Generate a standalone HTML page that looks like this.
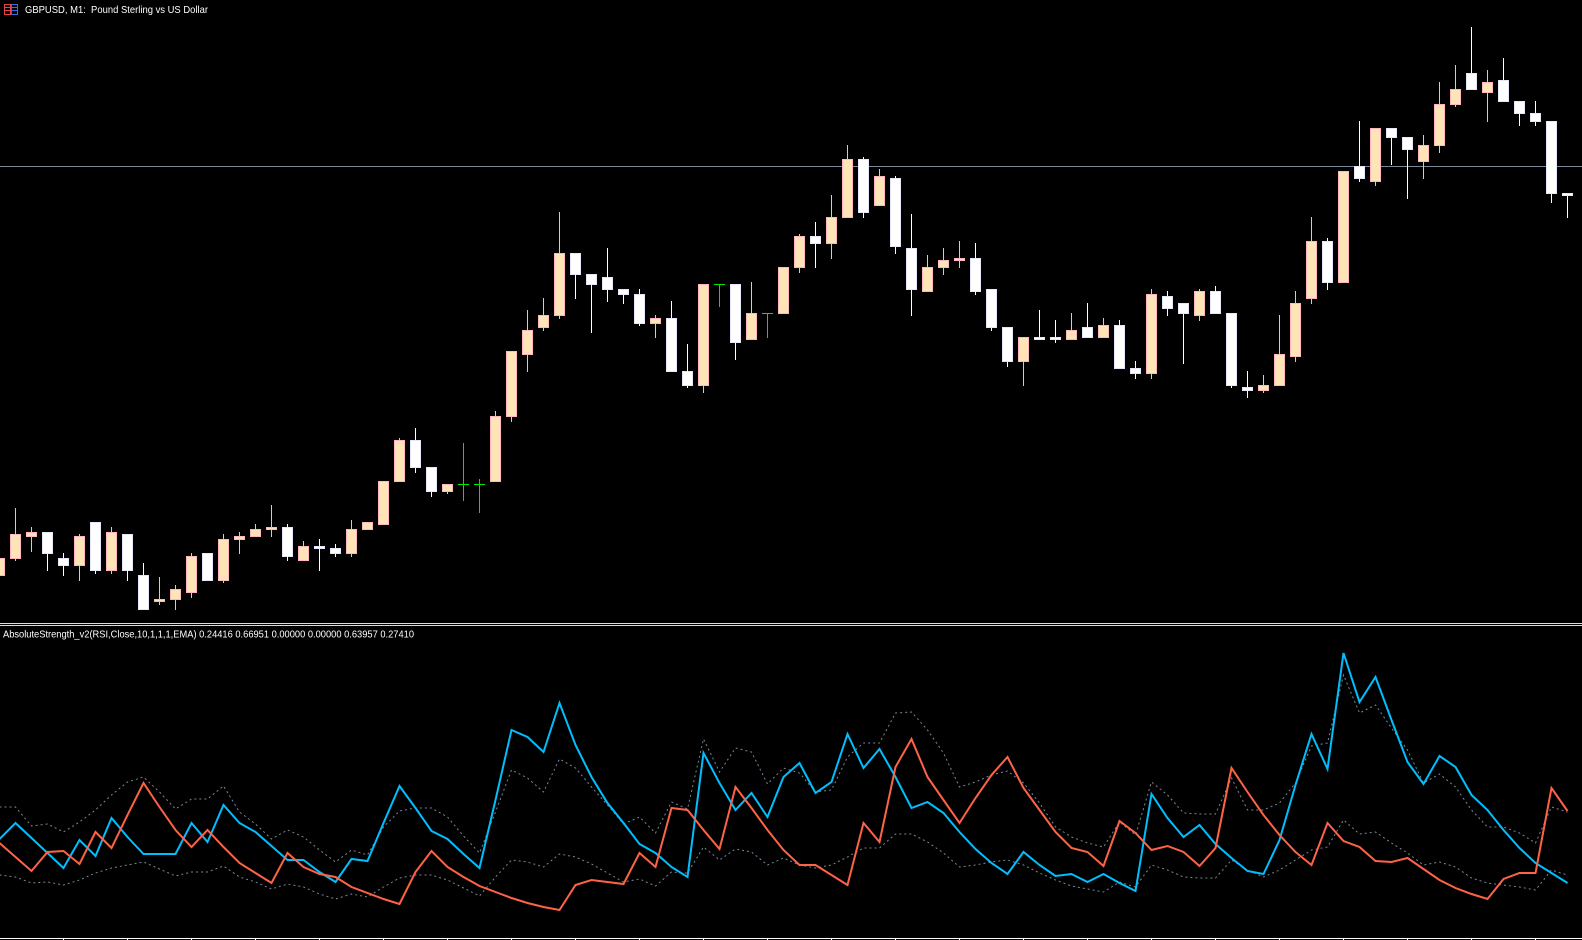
<!DOCTYPE html>
<html>
<head>
<meta charset="utf-8">
<style>
html,body{margin:0;padding:0;background:#000;}
svg{display:block;}
.u{fill:#FFE4B5;stroke:#FFB6C1;stroke-width:1;}
.d{fill:#FFFFFF;stroke:#E6E6FA;stroke-width:1;}
.uw{stroke:#FFB6C1;stroke-width:1;fill:none;}
.dw{stroke:#FFFFFF;stroke-width:1;fill:none;}
.gw{stroke:#00E600;stroke-width:1;fill:none;}
text{font-family:"Liberation Sans",sans-serif;fill:#FFFFFF;}
</style>
</head>
<body>
<svg width="1582" height="940" viewBox="0 0 1582 940" xmlns="http://www.w3.org/2000/svg">
<rect x="0" y="0" width="1582" height="940" fill="#000"/>

<!-- title -->
<g shape-rendering="crispEdges">
<rect x="4.5" y="4.5" width="6" height="10" fill="none" stroke="#E84444"/>
<path d="M5 7.5H10 M5 10.5H10" stroke="#E84444"/>
<rect x="11.5" y="4.5" width="6" height="10" fill="none" stroke="#2F72EA"/>
<path d="M12 7.5H17 M12 10.5H17" stroke="#2F72EA"/>
</g>
<text x="25" y="13" font-size="10.5" textLength="183" lengthAdjust="spacingAndGlyphs" xml:space="preserve">GBPUSD, M1:  Pound Sterling vs US Dollar</text>

<!-- price level line -->
<path d="M0 166.5H1582" stroke="#778899" stroke-width="1" shape-rendering="crispEdges"/>

<!-- candles -->
<g shape-rendering="crispEdges">
<path class="uw" d="M-0.5 555V578 M15.5 508V561 M31.5 527V552 M79.5 534V581 M111.5 527V574 M159.5 577V605 M175.5 585V610 M191.5 553V598 M223.5 534V583 M239.5 532V554 M255.5 524V537 M271.5 505V537 M303.5 541V561 M351.5 520V557 M399.5 438V482 M447.5 484V494 M495.5 411V482 M511.5 351V422 M527.5 310V372 M543.5 298V331 M559.5 212V319 M655.5 315V338 M703.5 284V393 M751.5 282V340 M799.5 234V273 M831.5 195V259 M847.5 145V218 M879.5 169V206 M927.5 255V292 M943.5 248V275 M959.5 241V268 M1023.5 337V386 M1071.5 313V340 M1103.5 318V338 M1151.5 289V379 M1199.5 289V321 M1263.5 375V393 M1279.5 315V386 M1295.5 291V362 M1311.5 217V304 M1375.5 128V186 M1423.5 135V179 M1439.5 82V153 M1455.5 65V107 M1487.5 70V122"/>
<path class="dw" d="M47.5 532V571 M63.5 553V576 M95.5 522V574 M127.5 534V581 M143.5 563V610 M287.5 524V561 M319.5 539V571 M335.5 544V557 M415.5 428V473 M431.5 467V497 M575.5 253V299 M591.5 274V333 M607.5 248V302 M623.5 289V304 M639.5 289V326 M671.5 301V372 M687.5 344V388 M735.5 284V360 M815.5 222V268 M863.5 157V218 M895.5 176V254 M911.5 214V316 M975.5 243V295 M991.5 289V331 M1007.5 327V367 M1039.5 310V340 M1055.5 320V343 M1087.5 303V338 M1119.5 320V369 M1135.5 361V379 M1167.5 291V316 M1183.5 303V364 M1215.5 286V314 M1231.5 313V388 M1247.5 371V398 M1327.5 238V290 M1359.5 121V182 M1391.5 128V165 M1407.5 137V199 M1471.5 27V90 M1503.5 58V102 M1519.5 101V126 M1535.5 101V126 M1551.5 121V203 M1567.5 193V218"/>
<path class="gw" d="M463.5 443V501 M458 484.5H469 M479.5 479V513 M474 484.5H485 M719.5 284V307 M714 284.5H725 M767.5 313V338 M762 313.5H773"/>

<rect class="u" x="-5.5" y="558.5" width="10" height="17"/>
<rect class="u" x="10.5" y="534.5" width="10" height="24"/>
<rect class="u" x="26.5" y="532.5" width="10" height="4"/>
<rect class="d" x="42.5" y="532.5" width="10" height="21"/>
<rect class="d" x="58.5" y="558.5" width="10" height="7"/>
<rect class="u" x="74.5" y="536.5" width="10" height="29"/>
<rect class="d" x="90.5" y="522.5" width="10" height="48"/>
<rect class="u" x="106.5" y="532.5" width="10" height="38"/>
<rect class="d" x="122.5" y="534.5" width="10" height="36"/>
<rect class="d" x="138.5" y="575.5" width="10" height="34"/>
<rect class="u" x="154.5" y="599.5" width="10" height="2"/>
<rect class="u" x="170.5" y="589.5" width="10" height="10"/>
<rect class="u" x="186.5" y="556.5" width="10" height="36"/>
<rect class="d" x="202.5" y="553.5" width="10" height="27"/>
<rect class="u" x="218.5" y="539.5" width="10" height="41"/>
<rect class="u" x="234.5" y="536.5" width="10" height="3"/>
<rect class="u" x="250.5" y="529.5" width="10" height="7"/>
<rect class="u" x="266.5" y="527.5" width="10" height="2"/>
<rect class="d" x="282.5" y="527.5" width="10" height="29"/>
<rect class="u" x="298.5" y="546.5" width="10" height="14"/>
<rect class="d" x="314.5" y="546.5" width="10" height="2"/>
<rect class="d" x="330.5" y="548.5" width="10" height="5"/>
<rect class="u" x="346.5" y="529.5" width="10" height="24"/>
<rect class="u" x="362.5" y="522.5" width="10" height="7"/>
<rect class="u" x="378.5" y="481.5" width="10" height="43"/>
<rect class="u" x="394.5" y="440.5" width="10" height="41"/>
<rect class="d" x="410.5" y="440.5" width="10" height="27"/>
<rect class="d" x="426.5" y="467.5" width="10" height="24"/>
<rect class="u" x="442.5" y="484.5" width="10" height="7"/>
<rect class="u" x="490.5" y="416.5" width="10" height="65"/>
<rect class="u" x="506.5" y="351.5" width="10" height="65"/>
<rect class="u" x="522.5" y="330.5" width="10" height="24"/>
<rect class="u" x="538.5" y="315.5" width="10" height="12"/>
<rect class="u" x="554.5" y="253.5" width="10" height="62"/>
<rect class="d" x="570.5" y="253.5" width="10" height="21"/>
<rect class="d" x="586.5" y="274.5" width="10" height="10"/>
<rect class="d" x="602.5" y="277.5" width="10" height="12"/>
<rect class="d" x="618.5" y="289.5" width="10" height="5"/>
<rect class="d" x="634.5" y="294.5" width="10" height="29"/>
<rect class="u" x="650.5" y="318.5" width="10" height="5"/>
<rect class="d" x="666.5" y="318.5" width="10" height="53"/>
<rect class="d" x="682.5" y="371.5" width="10" height="14"/>
<rect class="u" x="698.5" y="284.5" width="10" height="101"/>
<rect class="d" x="730.5" y="284.5" width="10" height="58"/>
<rect class="u" x="746.5" y="313.5" width="10" height="26"/>
<rect class="u" x="778.5" y="267.5" width="10" height="46"/>
<rect class="u" x="794.5" y="236.5" width="10" height="31"/>
<rect class="d" x="810.5" y="236.5" width="10" height="7"/>
<rect class="u" x="826.5" y="217.5" width="10" height="26"/>
<rect class="u" x="842.5" y="159.5" width="10" height="58"/>
<rect class="d" x="858.5" y="159.5" width="10" height="53"/>
<rect class="u" x="874.5" y="176.5" width="10" height="29"/>
<rect class="d" x="890.5" y="178.5" width="10" height="68"/>
<rect class="d" x="906.5" y="248.5" width="10" height="41"/>
<rect class="u" x="922.5" y="267.5" width="10" height="24"/>
<rect class="u" x="938.5" y="260.5" width="10" height="7"/>
<rect class="u" x="954.5" y="258.5" width="10" height="2"/>
<rect class="d" x="970.5" y="258.5" width="10" height="33"/>
<rect class="d" x="986.5" y="289.5" width="10" height="38"/>
<rect class="d" x="1002.5" y="327.5" width="10" height="34"/>
<rect class="u" x="1018.5" y="337.5" width="10" height="24"/>
<rect class="d" x="1034.5" y="337.5" width="10" height="2"/>
<rect class="d" x="1050.5" y="337.5" width="10" height="2"/>
<rect class="u" x="1066.5" y="330.5" width="10" height="9"/>
<rect class="d" x="1082.5" y="327.5" width="10" height="10"/>
<rect class="u" x="1098.5" y="325.5" width="10" height="12"/>
<rect class="d" x="1114.5" y="325.5" width="10" height="43"/>
<rect class="d" x="1130.5" y="368.5" width="10" height="5"/>
<rect class="u" x="1146.5" y="294.5" width="10" height="79"/>
<rect class="d" x="1162.5" y="296.5" width="10" height="12"/>
<rect class="d" x="1178.5" y="303.5" width="10" height="10"/>
<rect class="u" x="1194.5" y="291.5" width="10" height="24"/>
<rect class="d" x="1210.5" y="291.5" width="10" height="22"/>
<rect class="d" x="1226.5" y="313.5" width="10" height="72"/>
<rect class="d" x="1242.5" y="387.5" width="10" height="3"/>
<rect class="u" x="1258.5" y="385.5" width="10" height="5"/>
<rect class="u" x="1274.5" y="354.5" width="10" height="31"/>
<rect class="u" x="1290.5" y="303.5" width="10" height="53"/>
<rect class="u" x="1306.5" y="241.5" width="10" height="57"/>
<rect class="d" x="1322.5" y="241.5" width="10" height="41"/>
<rect class="u" x="1338.5" y="171.5" width="10" height="111"/>
<rect class="d" x="1354.5" y="166.5" width="10" height="12"/>
<rect class="u" x="1370.5" y="128.5" width="10" height="53"/>
<rect class="d" x="1386.5" y="128.5" width="10" height="9"/>
<rect class="d" x="1402.5" y="137.5" width="10" height="12"/>
<rect class="u" x="1418.5" y="145.5" width="10" height="16"/>
<rect class="u" x="1434.5" y="104.5" width="10" height="41"/>
<rect class="u" x="1450.5" y="89.5" width="10" height="15"/>
<rect class="d" x="1466.5" y="73.5" width="10" height="16"/>
<rect class="u" x="1482.5" y="82.5" width="10" height="10"/>
<rect class="d" x="1498.5" y="80.5" width="10" height="21"/>
<rect class="d" x="1514.5" y="101.5" width="10" height="12"/>
<rect class="d" x="1530.5" y="113.5" width="10" height="8"/>
<rect class="d" x="1546.5" y="121.5" width="10" height="72"/>
<rect class="d" x="1562.5" y="193.5" width="10" height="2"/>
</g>

<!-- separator -->
<path d="M0 623.5H1582 M0 625.5H1582" stroke="#DCDCDC" stroke-width="1" shape-rendering="crispEdges"/>

<!-- indicator label -->
<text x="3" y="637.5" font-size="10.5" textLength="411" lengthAdjust="spacingAndGlyphs">AbsoluteStrength_v2(RSI,Close,10,1,1,1,EMA) 0.24416 0.66951 0.00000 0.00000 0.63957 0.27410</text>

<!-- indicator dashed bands -->
<g fill="none" stroke="#778899" stroke-width="1" stroke-dasharray="2,3">
<polyline points="-0.5,807 15.5,807 31.5,826 47.5,824 63.5,832 79.5,822 95.5,810 111.5,795 127.5,782 143.5,777 159.5,792 175.5,809 191.5,799 207.5,799 223.5,786 239.5,812 255.5,824 271.5,839 287.5,830 303.5,837 319.5,850 335.5,862 351.5,850 367.5,855 383.5,827 399.5,811 415.5,808 431.5,808 447.5,817 463.5,836 479.5,853 495.5,812 511.5,770 527.5,778 543.5,792 559.5,759 575.5,768 591.5,787 607.5,805 623.5,824 639.5,817 655.5,833 671.5,802 687.5,809 703.5,739 719.5,772 735.5,748 751.5,752 767.5,784 783.5,768 799.5,773 815.5,792 831.5,790 847.5,757 863.5,743 879.5,743 895.5,713 911.5,712 927.5,730 943.5,753 959.5,787 975.5,782 991.5,775 1007.5,771 1023.5,783 1039.5,803 1055.5,827 1071.5,837 1087.5,843 1103.5,847 1119.5,822 1135.5,835 1151.5,782 1167.5,795 1183.5,813 1199.5,814 1215.5,814 1231.5,778 1247.5,810 1263.5,810 1279.5,803 1295.5,783 1311.5,746 1327.5,743 1343.5,675 1359.5,713 1375.5,705 1391.5,728 1407.5,750 1423.5,783 1439.5,774 1455.5,787 1471.5,810 1487.5,827 1503.5,827 1519.5,833 1535.5,843 1551.5,807 1567.5,812"/>
<polyline points="-0.5,875 15.5,877 31.5,883 47.5,882 63.5,885 79.5,880 95.5,873 111.5,868 127.5,865 143.5,862 159.5,869 175.5,876 191.5,872 207.5,872 223.5,866 239.5,877 255.5,882 271.5,889 287.5,884 303.5,887 319.5,894 335.5,899 351.5,894 367.5,897 383.5,887 399.5,878 415.5,875 431.5,875 447.5,880 463.5,888 479.5,896 495.5,877 511.5,860 527.5,862 543.5,867 559.5,854 575.5,857 591.5,864 607.5,873 623.5,882 639.5,879 655.5,886 671.5,872 687.5,873 703.5,847 719.5,860 735.5,849 751.5,852 767.5,865 783.5,858 799.5,865 815.5,868 831.5,865 847.5,857 863.5,848 879.5,848 895.5,834 911.5,834 927.5,842 943.5,853 959.5,867 975.5,865 991.5,862 1007.5,860 1023.5,865 1039.5,873 1055.5,880 1071.5,886 1087.5,889 1103.5,892 1119.5,882 1135.5,887 1151.5,865 1167.5,870 1183.5,877 1199.5,878 1215.5,878 1231.5,860 1247.5,870 1263.5,877 1279.5,870 1295.5,860 1311.5,850 1327.5,847 1343.5,820 1359.5,834 1375.5,832 1391.5,843 1407.5,853 1423.5,865 1439.5,862 1455.5,867 1471.5,878 1487.5,883 1503.5,885 1519.5,887 1535.5,890 1551.5,870 1567.5,875"/>
</g>

<!-- blue line -->
<polyline fill="none" stroke="#00BFFF" stroke-width="2" stroke-linejoin="miter" points="-0.5,839 15.5,823 31.5,838 47.5,853 63.5,868 79.5,840 95.5,856 111.5,818 127.5,837 143.5,854 159.5,854 175.5,854 191.5,823 207.5,842 223.5,805 239.5,823 255.5,832 271.5,846 287.5,860 303.5,860 319.5,872 335.5,882 351.5,859 367.5,861 383.5,823 399.5,786 415.5,808 431.5,831 447.5,839 463.5,854 479.5,868 495.5,800 511.5,730 527.5,737 543.5,752 559.5,703 575.5,745 591.5,777 607.5,803 623.5,823 639.5,844 655.5,853 671.5,867 687.5,877 703.5,753 719.5,783 735.5,810 751.5,793 767.5,817 783.5,777 799.5,763 815.5,793 831.5,782 847.5,734 863.5,768 879.5,749 895.5,777 911.5,808 927.5,802 943.5,813 959.5,832 975.5,849 991.5,863 1007.5,874 1023.5,852 1039.5,865 1055.5,876 1071.5,874 1087.5,882 1103.5,874 1119.5,883 1135.5,891 1151.5,794 1167.5,818 1183.5,837 1199.5,825 1215.5,844 1231.5,858 1247.5,871 1263.5,874 1279.5,840 1295.5,785 1311.5,734 1327.5,769 1343.5,653 1359.5,702 1375.5,677 1391.5,720 1407.5,762 1423.5,784 1439.5,756 1455.5,767 1471.5,795 1487.5,810 1503.5,830 1519.5,848 1535.5,863 1551.5,873 1567.5,883"/>

<!-- orange line -->
<polyline fill="none" stroke="#FF6347" stroke-width="2" points="-0.5,843 15.5,857 31.5,871 47.5,852 63.5,851 79.5,864 95.5,832 111.5,848 127.5,815 143.5,783 159.5,807 175.5,830 191.5,847 207.5,830 223.5,847 239.5,863 255.5,873 271.5,883 287.5,853 303.5,867 319.5,874 335.5,877 351.5,887 367.5,893 383.5,899 399.5,904 415.5,872 431.5,851 447.5,867 463.5,877 479.5,886 495.5,892 511.5,898 527.5,903 543.5,907 559.5,910 575.5,885 591.5,880 607.5,882 623.5,884 639.5,853 655.5,867 671.5,808 687.5,810 703.5,830 719.5,849 735.5,787 751.5,808 767.5,830 783.5,850 799.5,865 815.5,865 831.5,875 847.5,885 863.5,823 879.5,842 895.5,767 911.5,739 927.5,777 943.5,800 959.5,823 975.5,798 991.5,775 1007.5,757 1023.5,788 1039.5,810 1055.5,832 1071.5,848 1087.5,852 1103.5,866 1119.5,821 1135.5,833 1151.5,850 1167.5,846 1183.5,852 1199.5,866 1215.5,848 1231.5,768 1247.5,792 1263.5,815 1279.5,835 1295.5,852 1311.5,865 1327.5,823 1343.5,841 1359.5,847 1375.5,861 1391.5,862 1407.5,858 1423.5,869 1439.5,880 1455.5,888 1471.5,894 1487.5,899 1503.5,879 1519.5,873 1535.5,873 1551.5,788 1567.5,811"/>

<!-- bottom axis -->
<g stroke="#FFFFFF" stroke-width="1" shape-rendering="crispEdges" fill="none">
<path d="M0 938.5H1582"/>
<path d="M63.5 938V940 M127.5 938V940 M191.5 938V940 M255.5 938V940 M319.5 938V940 M383.5 938V940 M447.5 938V940 M511.5 938V940 M575.5 938V940 M639.5 938V940 M703.5 938V940 M767.5 938V940 M831.5 938V940 M895.5 938V940 M959.5 938V940 M1023.5 938V940 M1087.5 938V940 M1151.5 938V940 M1215.5 938V940 M1279.5 938V940 M1343.5 938V940 M1407.5 938V940 M1471.5 938V940 M1535.5 938V940"/>
</g>
</svg>
</body>
</html>
